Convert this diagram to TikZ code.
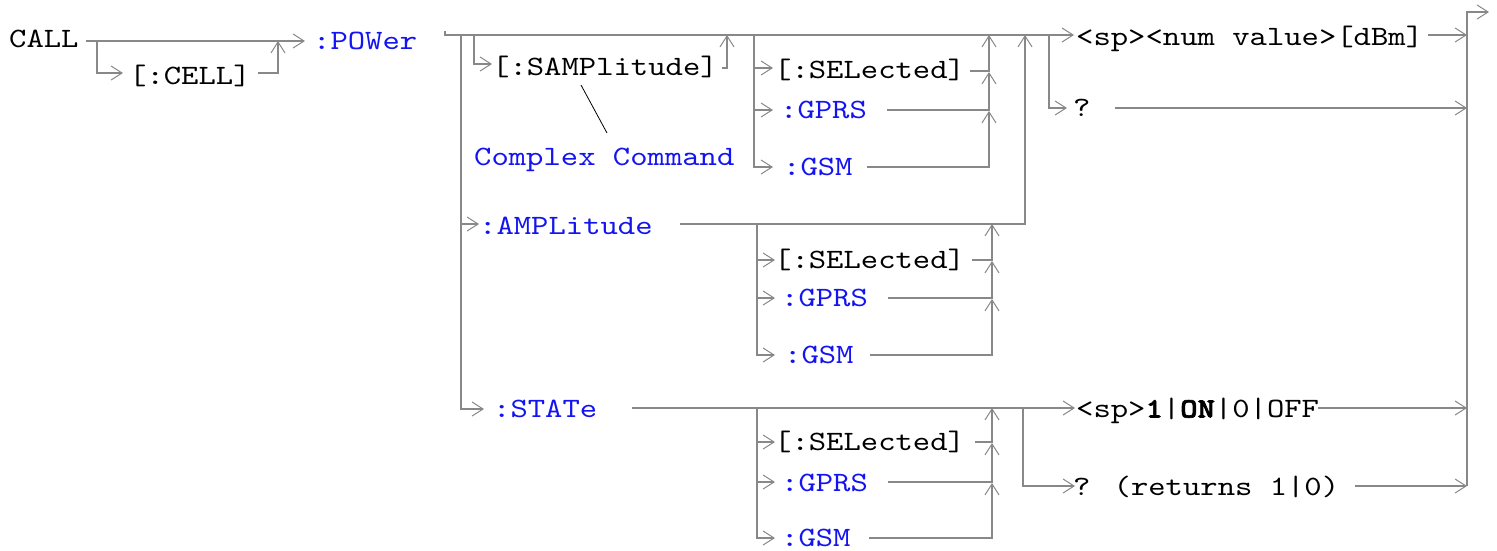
\documentclass[tikz,border=0pt]{standalone}
\usepackage{fontspec}
\newfontfamily\cour[FakeStretch=1.18,BoldFont=lmmonolt10-bold.otf,BoldFeatures={FakeBold=2.5}]{lmmono10-regular.otf}
\usetikzlibrary{arrows.meta}
\definecolor{linegray}{RGB}{136,136,136}
\definecolor{kwblue}{RGB}{20,20,240}
\tikzset{
  txt/.style={font=\cour\fontsize{28}{30}\selectfont, inner sep=0pt, text height=17pt, text depth=0pt, anchor=west},
  kw/.style={txt, text=kwblue},
  conn/.style={draw=linegray, line width=1.3pt},
  arr/.style={conn, -{Straight Barb[length=11pt,width=14pt,line width=1pt]}},
}
\begin{document}
\begin{tikzpicture}[x=1pt,y=-1pt]
\useasboundingbox (0,0) rectangle (1497,550);
% text nodes
\node[txt] (call) at (9,39) {CALL};
\node[kw]  (power) at (313,41) {:POWer};
\node[txt] (cell) at (129,76) {[:CELL]};
\node[txt] (samp) at (492,67) {[:SAMPlitude]};
\node[kw]  (cc) at (474,157) {Complex Command};
\node[txt] (sel1) at (774,70) {[:SELected]};
\node[kw]  (gprs1) at (780,110) {:GPRS};
\node[kw]  (gsm1) at (783,167) {:GSM};
\node[kw]  (amp) at (479,226) {:AMPLitude};
\node[txt] (sel2) at (774,260) {[:SELected]};
\node[kw]  (gprs2) at (781,298) {:GPRS};
\node[kw]  (gsm2) at (784,355) {:GSM};
\node[kw]  (state) at (493,409) {:STATe};
\node[txt] (sel3) at (774,442) {[:SELected]};
\node[kw]  (gprs3) at (781,483) {:GPRS};
\node[kw]  (gsm3) at (781,538) {:GSM};
\node[txt] (num) at (1076,37) {<sp><num value>[dBm]};
\node[txt] (q) at (1073,108) {?};
\node[txt] (onoff) at (1076,409) {<sp>\textbf{1}|\textbf{ON}|0|OFF};
\node[txt] (ret) at (1073,487) {? (returns 1|0)};
% CALL -> :POWer
\draw[arr] (86,41) -- (305,41);
\draw[arr] (97,41) |- (123,73);
\draw[arr] (258,73) -| (278,41);
% top line after :POWer
\draw[arr] (445,31) -- (445,35) -- (1074,35);
\draw[arr] (461,35) |- (484,409);
\draw[arr] (461,224) -- (479,224);
\draw[arr] (474,35) |- (492,64);
\draw[arr] (722,68) -| (727,35);
\draw[black, line width=0.8pt] (581,85) -- (607,133);
% group 1
\draw[arr] (754,35) |- (773,167);
\draw[arr] (754,68) -- (773,68);
\draw[arr] (754,110) -- (773,110);
\draw[arr] (970,71) -| (989,35);
\draw[arr] (887,110) -| (989,72);
\draw[arr] (867,167) -| (989,111);
% :AMPLitude
\draw[arr] (680,224) -| (1025,35);
% group 2
\draw[arr] (757,224) |- (775,355);
\draw[arr] (757,260) -- (775,260);
\draw[arr] (757,298) -- (775,298);
\draw[arr] (972,260) -| (992,224);
\draw[arr] (888,298) -| (992,261);
\draw[arr] (870,355) -| (992,299);
% :STATe
\draw[arr] (632,408) -- (1075,408);
% group 3
\draw[arr] (757,408) |- (775,538);
\draw[arr] (757,442) -- (775,442);
\draw[arr] (757,482) -- (775,482);
\draw[arr] (975,442) -| (992,408);
\draw[arr] (888,482) -| (992,443);
\draw[arr] (869,538) -| (992,483);
% right part
\draw[arr] (1049,35) |- (1067,108);
\draw[arr] (1115,108) -- (1467,108);
\draw[arr] (1428,35) -- (1467,35);
\draw[arr] (1023,408) |- (1075,486);
\draw[arr] (1318,408) -- (1467,408);
\draw[arr] (1355,486) -- (1467,486);
\draw[arr] (1467,486) -- (1467,12) -- (1489,12);
\end{tikzpicture}
\end{document}
